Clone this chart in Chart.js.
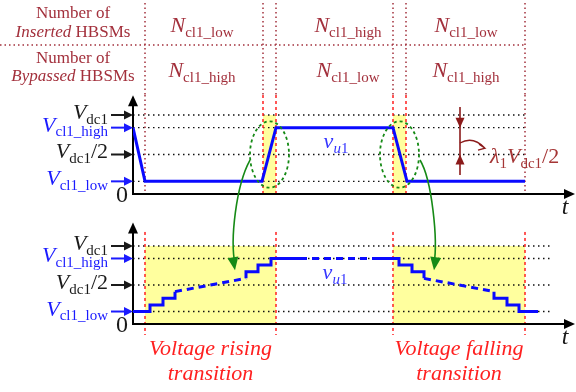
<!DOCTYPE html>
<html>
<head>
<meta charset="utf-8">
<script src="https://cdn.jsdelivr.net/npm/chart.js@4.4.1/dist/chart.umd.min.js"></script>
<style>
  body { margin: 0; background: #fff; }
  #diagram { display: block; }
</style>
</head>
<body>
<canvas id="diagram" width="576" height="392"></canvas>
<script>
// voltage levels (per unit of Vdc1) and their axis labels
const levelValues = [1, 0.84, 0.5, 0.16];
const levelLabels = ['*V*_{dc1}', '*V*_{cl1_high}', '*V*_{dc1}/2', '*V*_{cl1_low}'];
const levelColors = ['#1a1a1a', '#1a1aff', '#1a1a1a', '#1a1aff'];

// arm voltage over one cycle (upper plot)
const armTime = [0, 12, 129, 143, 260, 274, 392];
const armVoltage = [0.84, 0.16, 0.16, 0.84, 0.84, 0.16, 0.16];

// staircase seen inside the transitions (lower plot)
const riseTime = [0, 17, 17, 30, 30, 42, 42];
const riseVoltage = [0.16, 0.16, 0.245, 0.245, 0.33, 0.33, 0.415];
const riseGapTime = [42, 113];
const riseGapVoltage = [0.415, 0.585];
const riseEndTime = [113, 113, 125, 125, 138, 138, 167];
const riseEndVoltage = [0.585, 0.67, 0.67, 0.755, 0.755, 0.84, 0.84];
const holdTime = [167, 239];
const holdVoltage = [0.84, 0.84];
const fallTime = [239, 266, 266, 279, 279, 291, 291];
const fallVoltage = [0.84, 0.84, 0.755, 0.755, 0.67, 0.67, 0.585];
const fallGapTime = [291, 361];
const fallGapVoltage = [0.585, 0.415];
const fallEndTime = [361, 361, 374, 374, 386, 386, 405];
const fallEndVoltage = [0.415, 0.33, 0.33, 0.245, 0.245, 0.16, 0.16];

// switching intervals and the HBSM counts in each of them
const intervalEdges = [12, 130, 143, 260, 273, 392];
const transitionBands = [[130, 143], [260, 273]];
const detailBands = [[12, 143], [260, 392]];
const cellCenters = [69, 215, 333];
const insertedCounts = ['*N*_{cl1_low}', '*N*_{cl1_high}', '*N*_{cl1_low}'];
const bypassedCounts = ['*N*_{cl1_high}', '*N*_{cl1_low}', '*N*_{cl1_high}'];
const transitionNames = [['Voltage rising', 'transition'], ['Voltage falling', 'transition']];

const SERIF = '"Liberation Serif", "DejaVu Serif", serif';
const BLUE = '#0a0aff';
const DARK_RED = '#a3303c';
const RED = '#ff2020';
const GREEN = '#168a16';

function pts(xs, ys) {
  return xs.map((x, i) => ({ x: x, y: ys[i] }));
}

// *x* italic, _{x} subscript, _[x] italic subscript
function parseRich(str) {
  const parts = [];
  const re = /\*([^*]+)\*|_\{([^}]+)\}|_\[([^\]]+)\]|([^*_]+)/g;
  let m;
  while ((m = re.exec(str))) {
    if (m[1]) parts.push({ t: m[1], it: true, sub: false });
    else if (m[2]) parts.push({ t: m[2], it: false, sub: true });
    else if (m[3]) parts.push({ t: m[3], it: true, sub: true });
    else parts.push({ t: m[4], it: false, sub: false });
  }
  return parts;
}

function drawRich(ctx, str, x, y, size, color, align) {
  const parts = parseRich(str);
  const subSize = Math.round(size * 0.68);
  const fontOf = p => (p.it ? 'italic ' : '') + (p.sub ? subSize : size) + 'px ' + SERIF;
  let w = 0;
  parts.forEach(p => { ctx.font = fontOf(p); p.w = ctx.measureText(p.t).width; w += p.w; });
  let cx = align === 'right' ? x - w : align === 'center' ? x - w / 2 : x;
  ctx.fillStyle = color;
  ctx.textAlign = 'left';
  ctx.textBaseline = 'alphabetic';
  parts.forEach(p => {
    ctx.font = fontOf(p);
    ctx.fillText(p.t, cx, y + (p.sub ? size * 0.22 : 0));
    cx += p.w;
  });
}

function line(ctx, x1, y1, x2, y2, color, width, dash) {
  ctx.save();
  ctx.strokeStyle = color;
  ctx.lineWidth = width;
  ctx.setLineDash(dash || []);
  ctx.beginPath();
  ctx.moveTo(x1, y1);
  ctx.lineTo(x2, y2);
  ctx.stroke();
  ctx.restore();
}

function head(ctx, x, y, angle, len, half, color) {
  ctx.save();
  ctx.translate(x, y);
  ctx.rotate(angle);
  ctx.fillStyle = color;
  ctx.beginPath();
  ctx.moveTo(0, 0);
  ctx.lineTo(-len, -half);
  ctx.lineTo(-len, half);
  ctx.closePath();
  ctx.fill();
  ctx.restore();
}

const diagram = {
  id: 'diagram',
  beforeDatasetsDraw(chart) {
    const { ctx, chartArea, scales: { x, yTop, yBot } } = chart;

    // shaded transition windows
    ctx.fillStyle = '#ffff9e';
    transitionBands.forEach(([a, b]) => {
      ctx.fillRect(x.getPixelForValue(a), yTop.getPixelForValue(1), x.getPixelForValue(b) - x.getPixelForValue(a), yTop.getPixelForValue(0) - yTop.getPixelForValue(1));
    });
    detailBands.forEach(([a, b]) => {
      ctx.fillRect(x.getPixelForValue(a), yBot.getPixelForValue(1), x.getPixelForValue(b) - x.getPixelForValue(a), yBot.getPixelForValue(0) - yBot.getPixelForValue(1));
    });

    // dotted voltage levels
    levelValues.forEach(v => {
      line(ctx, x.getPixelForValue(0), yTop.getPixelForValue(v), x.getPixelForValue(392), yTop.getPixelForValue(v), '#111', 1.3, [1.5, 3.5]);
      line(ctx, x.getPixelForValue(0), yBot.getPixelForValue(v), x.getPixelForValue(418), yBot.getPixelForValue(v), '#111', 1.3, [1.5, 3.5]);
    });

    // table grid and interval edges
    line(ctx, 0, 45, x.getPixelForValue(392), 45, DARK_RED, 1.5, [1.5, 3]);
    intervalEdges.forEach(t => {
      const px = x.getPixelForValue(t);
      const inner = transitionBands.some(b => b.includes(t));
      line(ctx, px, 3, px, chartArea.top, DARK_RED, 1.5, [1.5, 3]);
      if (inner) line(ctx, px, chartArea.top, px, yTop.getPixelForValue(-0.03), RED, 1.5, [3, 3]);
      else line(ctx, px, chartArea.top, px, yTop.getPixelForValue(0), DARK_RED, 1.5, [1.5, 3]);
    });
    detailBands.flat().forEach(t => {
      const px = x.getPixelForValue(t);
      line(ctx, px, yBot.getPixelForValue(1.18), px, yBot.getPixelForValue(-0.14), RED, 1.5, [3, 3]);
    });

    // axes with arrows
    [[yTop, 1.25], [yBot, 1.3]].forEach(([ys, top]) => {
      const x0 = x.getPixelForValue(0);
      const y0 = ys.getPixelForValue(0);
      const yt = ys.getPixelForValue(top);
      const xr = x.getPixelForValue(442);
      line(ctx, x0, y0, x0, yt + 8, '#000', 2);
      head(ctx, x0, yt, -Math.PI / 2, 11, 5, '#000');
      line(ctx, x0 - 1, y0, xr - 8, y0, '#000', 2);
      head(ctx, xr, y0, 0, 11, 5, '#000');
    });
  },
  afterDatasetsDraw(chart) {
    const { ctx, scales: { x, yTop, yBot } } = chart;
    const x0 = x.getPixelForValue(0);

    // level labels pointing at the vertical axes
    [yTop, yBot].forEach(ys => {
      levelValues.forEach((v, i) => {
        const py = ys.getPixelForValue(v);
        drawRich(ctx, levelLabels[i], 108, py + 4, 22, levelColors[i], 'right');
        line(ctx, 111, py, x0 - 7, py, levelColors[i], 2);
        head(ctx, x0, py, 0, 9, 4.5, levelColors[i]);
      });
      drawRich(ctx, '0', 128, ys.getPixelForValue(0) + 8, 24, '#1a1a1a', 'right');
      drawRich(ctx, '*t*', x.getPixelForValue(432), ys.getPixelForValue(0) + 20, 24, '#1a1a1a', 'center');
    });

    // table text
    const rowBase = [[18, 37], [63, 81]];
    drawRich(ctx, 'Number of', 73, rowBase[0][0], 17, DARK_RED, 'center');
    drawRich(ctx, '*Inserted* HBSMs', 73, rowBase[0][1], 17, DARK_RED, 'center');
    drawRich(ctx, 'Number of', 73, rowBase[1][0], 17, DARK_RED, 'center');
    drawRich(ctx, '*Bypassed* HBSMs', 73, rowBase[1][1], 17, DARK_RED, 'center');
    cellCenters.forEach((c, i) => {
      drawRich(ctx, insertedCounts[i], x.getPixelForValue(c), 32, 22, DARK_RED, 'center');
      drawRich(ctx, bypassedCounts[i], x.getPixelForValue(c), 77, 22, DARK_RED, 'center');
    });

    // circled transitions
    ctx.save();
    ctx.strokeStyle = GREEN;
    ctx.lineWidth = 1.8;
    ctx.setLineDash([3, 3]);
    [136.5, 266.5].forEach(c => {
      const cy = yTop.getPixelForValue(0.5);
      ctx.beginPath();
      ctx.ellipse(x.getPixelForValue(c), cy, 19.5, yTop.getPixelForValue(0.08) - cy, 0, 0, Math.PI * 2);
      ctx.stroke();
    });
    ctx.restore();

    // links from each circle to the detailed view
    const links = [
      [[117, 0.43], [103, 0.11], [97, 1.08], [102, 0.69]],
      [[287, 0.43], [299, 0.18], [305, 1.08], [301, 0.69]]
    ];
    links.forEach(([p0, p1, p2, p3]) => {
      const a = [x.getPixelForValue(p0[0]), yTop.getPixelForValue(p0[1])];
      const b = [x.getPixelForValue(p1[0]), yTop.getPixelForValue(p1[1])];
      const c = [x.getPixelForValue(p2[0]), yBot.getPixelForValue(p2[1])];
      const d = [x.getPixelForValue(p3[0]), yBot.getPixelForValue(p3[1])];
      ctx.save();
      ctx.strokeStyle = GREEN;
      ctx.lineWidth = 1.6;
      ctx.beginPath();
      ctx.moveTo(a[0], a[1]);
      ctx.bezierCurveTo(b[0], b[1], c[0], c[1], d[0], d[1] - 6);
      ctx.stroke();
      ctx.restore();
      head(ctx, d[0], d[1], Math.atan2(d[1] - c[1], d[0] - c[0]), 13, 5.5, GREEN);
    });

    // step height marker
    const mx = x.getPixelForValue(327);
    const mc = '#8b1a1a';
    line(ctx, mx, yTop.getPixelForValue(1.1), mx, yTop.getPixelForValue(0.24), mc, 1.6);
    head(ctx, mx, yTop.getPixelForValue(0.84), Math.PI / 2, 10, 4.5, mc);
    head(ctx, mx, yTop.getPixelForValue(0.5), -Math.PI / 2, 10, 4.5, mc);
    const s = [mx, yTop.getPixelForValue(0.645)];
    const e = [x.getPixelForValue(352), yTop.getPixelForValue(0.58)];
    ctx.save();
    ctx.strokeStyle = mc;
    ctx.lineWidth = 1.3;
    ctx.beginPath();
    ctx.moveTo(s[0], s[1]);
    ctx.quadraticCurveTo(mx + 13, yTop.getPixelForValue(0.74), e[0], e[1]);
    ctx.moveTo(e[0] - 6, e[1] - 4);
    ctx.lineTo(e[0], e[1]);
    ctx.lineTo(e[0] - 7, e[1] + 2);
    ctx.stroke();
    ctx.restore();
    drawRich(ctx, '*λ*_{1}*V*_{dc1}/2', x.getPixelForValue(357), yTop.getPixelForValue(0.39), 22, '#a53535', 'left');

    // waveform names
    drawRich(ctx, '*v*_[u]_{1}', x.getPixelForValue(203), yTop.getPixelForValue(0.58), 22, '#3535ff', 'center');
    drawRich(ctx, '*v*_[u]_{1}', x.getPixelForValue(202), yBot.getPixelForValue(0.58), 22, '#3535ff', 'center');

    // transition captions under the detailed view
    const base = yBot.getPixelForValue(0);
    detailBands.forEach(([a, b], i) => {
      const cx = x.getPixelForValue((a + b) / 2);
      drawRich(ctx, '*' + transitionNames[i][0] + '*', cx, base + 31, 22, RED, 'center');
      drawRich(ctx, '*' + transitionNames[i][1] + '*', cx, base + 56, 22, RED, 'center');
    });
  }
};

const solid = { borderColor: BLUE, borderWidth: 3, pointRadius: 0, tension: 0, fill: false, borderJoinStyle: 'miter' };
const dashed = Object.assign({}, solid, { borderDash: [7, 5] });

new Chart(document.getElementById('diagram'), {
  type: 'line',
  data: {
    datasets: [
      Object.assign({ data: pts(armTime, armVoltage), yAxisID: 'yTop' }, solid),
      Object.assign({ data: pts(riseTime, riseVoltage), yAxisID: 'yBot' }, solid),
      Object.assign({ data: pts(riseGapTime, riseGapVoltage), yAxisID: 'yBot' }, dashed),
      Object.assign({ data: pts(riseEndTime, riseEndVoltage), yAxisID: 'yBot' }, solid),
      Object.assign({ data: pts(holdTime, holdVoltage), yAxisID: 'yBot' }, dashed),
      Object.assign({ data: pts(fallTime, fallVoltage), yAxisID: 'yBot' }, solid),
      Object.assign({ data: pts(fallGapTime, fallGapVoltage), yAxisID: 'yBot' }, dashed),
      Object.assign({ data: pts(fallEndTime, fallEndVoltage), yAxisID: 'yBot' }, solid)
    ]
  },
  options: {
    responsive: false,
    animation: false,
    layout: { padding: { left: 133, right: 1, top: 95, bottom: 68 } },
    plugins: { legend: { display: false }, tooltip: { enabled: false } },
    scales: {
      x: { type: 'linear', min: 0, max: 442, display: false },
      yTop: { type: 'linear', min: -1.6455, max: 1.2531, display: false },
      yBot: { type: 'linear', min: 0, max: 2.936, display: false }
    }
  },
  plugins: [diagram]
});
</script>
</body>
</html>
